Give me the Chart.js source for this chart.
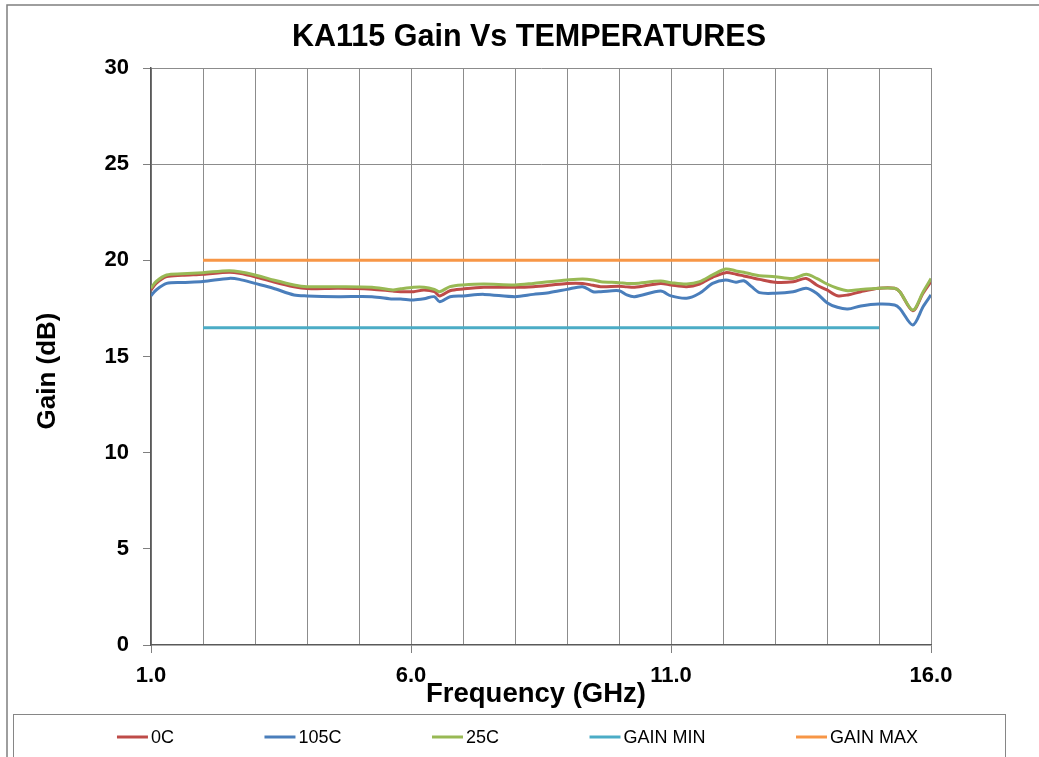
<!DOCTYPE html>
<html><head><meta charset="utf-8">
<script src="https://cdn.jsdelivr.net/npm/chart.js@4.4.1/dist/chart.umd.min.js"></script>
<style>html,body{margin:0;padding:0;background:#fff;overflow:hidden}#wrap{width:1039px;height:757px;position:relative}</style>
</head><body><div id="wrap"><canvas id="c" width="1039" height="757"></canvas></div>
<script>
const freqGHz = [1.0,1.1,1.3,1.6,2.0,2.5,2.7,3.0,3.35,3.75,4.0,4.6,5.25,5.65,5.8,6.05,6.25,6.45,6.55,6.75,7.0,7.4,8.0,8.35,8.65,9.0,9.3,9.5,9.65,10.0,10.15,10.3,10.8,11.0,11.3,11.55,11.8,12.05,12.25,12.4,12.55,12.7,13.0,13.35,13.6,13.8,14.0,14.2,14.4,14.65,15.0,15.3,15.4,15.65,15.85,16.0];
const gain0C = [18.45,18.8,19.15,19.22,19.28,19.38,19.33,19.15,18.88,18.62,18.53,18.55,18.5,18.4,18.37,18.37,18.46,18.37,18.15,18.42,18.51,18.6,18.6,18.63,18.7,18.8,18.8,18.7,18.63,18.65,18.62,18.6,18.8,18.72,18.63,18.77,19.12,19.36,19.28,19.19,19.1,19.01,18.86,18.89,19.06,18.72,18.46,18.16,18.2,18.37,18.55,18.55,18.37,17.38,18.3,18.9];
const gain105C = [18.16,18.46,18.8,18.85,18.9,19.06,19.01,18.8,18.55,18.2,18.15,18.11,18.11,17.99,17.99,17.94,18.0,18.11,17.85,18.11,18.15,18.23,18.11,18.23,18.32,18.49,18.63,18.37,18.37,18.42,18.2,18.11,18.4,18.15,18.03,18.29,18.8,18.98,18.86,18.94,18.63,18.32,18.29,18.37,18.55,18.29,17.8,17.56,17.47,17.63,17.73,17.68,17.5,16.64,17.6,18.2];
const gain25C = [18.55,18.9,19.24,19.3,19.36,19.46,19.41,19.24,18.98,18.72,18.63,18.63,18.6,18.46,18.52,18.6,18.6,18.49,18.37,18.63,18.72,18.77,18.72,18.8,18.89,18.98,19.03,18.98,18.89,18.84,18.8,18.8,18.92,18.84,18.77,18.89,19.24,19.55,19.45,19.38,19.28,19.2,19.15,19.06,19.27,19.06,18.77,18.55,18.42,18.49,18.55,18.55,18.37,17.42,18.37,19.05];
const limitFreq = [2.0, 15.0];
const gainMin = [16.5, 16.5];
const gainMax = [20, 20];
const seriesNames = ['0C','105C','25C','GAIN MIN','GAIN MAX'];
const seriesColors = ['#BE4B48','#4A7EBB','#98B954','#4BACC6','#F79646'];
const xTickLabels = ['1.0','6.0','11.0','16.0'];
const yGridValues = [25, 30];

const FONT = '"Liberation Sans", Arial, sans-serif';
const pts = (xs, ys) => xs.map((x, i) => ({x: x, y: ys[i]}));
const seriesData = [pts(freqGHz, gain0C), pts(freqGHz, gain105C), pts(freqGHz, gain25C), pts(limitFreq, gainMin), pts(limitFreq, gainMax)];
const drawOrder = [2, 3, 1, 4, 5];

const datasets = seriesNames.map((n, i) => ({
  label: n, data: seriesData[i], borderColor: seriesColors[i], backgroundColor: seriesColors[i],
  borderWidth: 3, pointRadius: 0, tension: i < 3 ? 0.3 : 0, order: drawOrder[i], fill: false
}));

const decor = {
  id: 'decor',
  beforeDraw(chart) {
    const c = chart.ctx; c.save(); c.fillStyle = '#fff'; c.fillRect(0, 0, chart.width, chart.height); c.restore();
  },
  afterDraw(chart) {
    const c = chart.ctx; c.save();
    c.strokeStyle = '#7f7f7f'; c.lineWidth = 1.5; c.strokeRect(7, 5, 1200, 900);
    c.fillStyle = '#000'; c.textAlign = 'center'; c.textBaseline = 'middle';
    c.font = 'bold 30.5px ' + FONT; c.fillText('KA115 Gain Vs TEMPERATURES', 529, 38);
    c.font = 'bold 27.5px ' + FONT; c.fillText('Frequency (GHz)', 536, 694);
    c.save(); c.translate(48, 371); c.rotate(-Math.PI / 2); c.font = 'bold 26px ' + FONT; c.fillText('Gain (dB)', 0, 0); c.restore();
    c.strokeStyle = '#868686'; c.lineWidth = 1; c.strokeRect(13.5, 714.5, 992, 80);
    c.font = '18px ' + FONT; c.textAlign = 'left';
    const ds = chart.data.datasets;
    const sw = 31, gap = 3, between = 90.5;
    let total = 0;
    ds.forEach((d, i) => { total += sw + gap + c.measureText(d.label).width + (i ? between : 0); });
    let x = 517.5 - total / 2; const y = 737;
    ds.forEach(d => {
      c.strokeStyle = d.borderColor; c.lineWidth = 3; c.beginPath(); c.moveTo(x, y); c.lineTo(x + sw, y); c.stroke();
      c.fillStyle = '#000'; c.fillText(d.label, x + sw + gap, y + 1);
      x += sw + gap + c.measureText(d.label).width + between;
    });
    c.restore();
  }
};

new Chart(document.getElementById('c'), {
  type: 'line',
  data: { datasets: datasets },
  options: {
    responsive: false, animation: false, devicePixelRatio: 1,
    layout: { padding: { left: 0, right: 108, top: 68, bottom: 0 } },
    plugins: { legend: { display: false }, title: { display: false }, tooltip: { enabled: false } },
    scales: {
      x: {
        type: 'linear', min: 1, max: 16,
        afterFit: s => { s.height = 112; },
        ticks: { stepSize: 1, autoSkip: false, maxRotation: 0, padding: 10, color: '#000',
          font: { family: FONT, size: 22, weight: 'bold' },
          callback: v => xTickLabels.includes(Number(v).toFixed(1)) ? Number(v).toFixed(1) : '' },
        grid: { color: '#8c8c8c', lineWidth: 1, tickLength: 8,
          tickColor: ctx => (ctx.tick && xTickLabels.includes(Number(ctx.tick.value).toFixed(1))) ? '#7f7f7f' : 'rgba(0,0,0,0)' },
        border: { color: '#595959', width: 1.5 }
      },
      y: {
        min: 0, max: 30,
        afterFit: s => { s.width = 151; },
        ticks: { stepSize: 5, padding: 14, color: '#000', font: { family: FONT, size: 22, weight: 'bold' } },
        grid: { lineWidth: 1, tickLength: 8, tickColor: '#7f7f7f',
          color: ctx => (ctx.tick && yGridValues.includes(ctx.tick.value)) ? '#8c8c8c' : 'rgba(0,0,0,0)' },
        border: { color: '#595959', width: 1.5 }
      }
    }
  },
  plugins: [decor]
});
</script></body></html>
